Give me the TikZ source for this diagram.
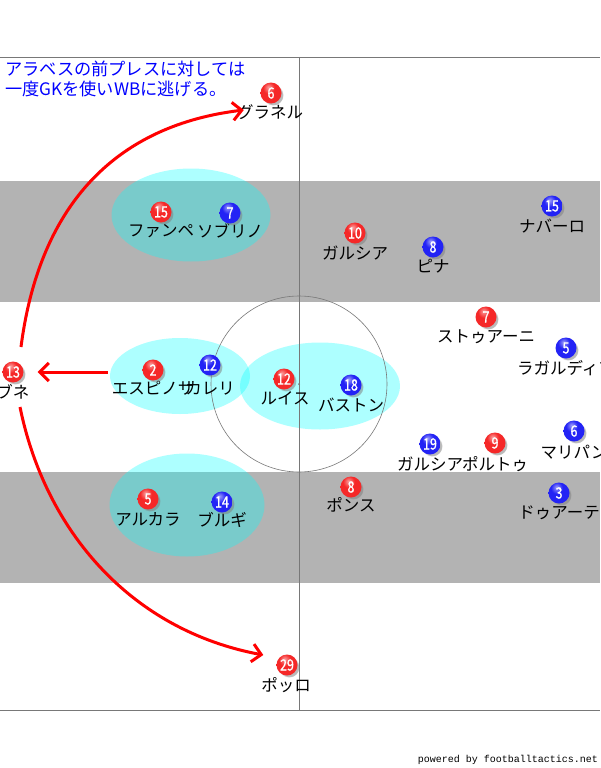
\documentclass[tikz,border=0pt]{standalone}
\usepackage{fontspec}
\newfontfamily\jp{Noto Sans CJK JP}
\newfontfamily\numf[FakeStretch=0.8,FakeBold=1.2]{Noto Sans CJK JP}
\newfontfamily\monof{Liberation Mono}
\usetikzlibrary{shapes.geometric,shadows,arrows.meta,calc}
\definecolor{band}{RGB}{179,179,179}
\definecolor{pred}{RGB}{245,40,40}
\definecolor{pblue}{RGB}{35,35,245}
\definecolor{zc}{RGB}{0,255,255}
\definecolor{fline}{RGB}{120,120,120}
\pgfdeclareradialshading{redball}{\pgfpoint{-6bp}{14bp}}{%
  color(0bp)=(pred!45!white); color(14bp)=(pred); color(38bp)=(pred);
  color(50bp)=(pred!75!black); color(100bp)=(pred!75!black)}
\pgfdeclareradialshading{blueball}{\pgfpoint{-6bp}{14bp}}{%
  color(0bp)=(pblue!45!white); color(14bp)=(pblue); color(38bp)=(pblue);
  color(50bp)=(pblue!75!black); color(100bp)=(pblue!75!black)}
\begin{document}
\begin{tikzpicture}[x=1pt,y=-1pt,
  player/.style={circle, minimum size=21pt, inner sep=0pt, text=white,
    font=\numf\fontsize{15.5}{16}\selectfont,
    circular drop shadow={shadow xshift=2.2pt, shadow yshift=-2.2pt, shadow scale=1.0, opacity=0.55}},
  redp/.style={player, shading=redball},
  bluep/.style={player, shading=blueball},
  lbl/.style={inner sep=0pt, font=\jp\fontsize{16.5}{18}\selectfont, text=black},
  zone/.style={ellipse, fill=zc, fill opacity=0.32, draw=none, inner sep=0pt},
  redarr/.style={draw=red, line width=3pt, -{Straight Barb[length=9pt,width=18pt]}},
  fieldline/.style={draw=fline, line width=0.9pt}]
\useasboundingbox (0,0) rectangle (600,768);
\fill[white] (0,0) rectangle (600,768);
% bands
\fill[band] (0,181) rectangle (600,302);
\fill[band] (0,472) rectangle (600,583);
% zones
\node[zone, minimum width=159pt, minimum height=93pt] (e1) at (191,215) {};
\node[zone, minimum width=140pt, minimum height=76pt] (e2) at (180,376) {};
\node[zone, minimum width=160pt, minimum height=87pt] (e3) at (320,386) {};
\node[zone, minimum width=155pt, minimum height=103pt] (e4) at (187,505) {};
% field lines
\draw[fieldline] (0,57) -- (600,57);
\draw[fieldline] (0,710) -- (600,710);
\draw[fieldline] (299,57) -- (299,710);
\draw[draw=fline, line width=0.6pt] (299,384) circle[radius=88];
\fill[fline] (299,384) circle[radius=1];
% title and credit
\node[anchor=north west, inner sep=0pt, align=left, text=blue,
  font=\jp\fontsize{17.2}{20}\selectfont] (title) at (5,61)
  {アラベスの前プレスに対しては\\一度GKを使いWBに逃げる。};
\node[anchor=east, inner sep=0pt, font=\monof\fontsize{10}{12}\selectfont] (credit) at (598,760)
  {powered by footballtactics.net};
% labels
\node[lbl] (l6r) at (270,112) {グラネル};
\node[lbl] (l15r) at (161,231) {ファンペ};
\node[lbl] (l7b) at (230,231) {ソブリノ};
\node[lbl] (l10r) at (355,253) {ガルシア};
\node[lbl] (l8b) at (433,266) {ピナ};
\node[lbl] (l15b) at (552,226) {ナバーロ};
\node[lbl] (l13r) at (13,392) {ブネ};
\node[lbl] (l2r) at (153,388) {エスピノサ};
\node[lbl] (l12b) at (210,388) {カレリ};
\node[lbl] (l12r) at (285,398) {ルイス};
\node[lbl] (l18b) at (351,405) {バストン};
\node[lbl] (l7r) at (486,337) {ストゥアーニ};
\node[lbl] (l5b) at (566,368) {ラガルディア};
\node[lbl] (l19b) at (430,464) {ガルシア};
\node[lbl] (l9r) at (495,464) {ポルトゥ};
\node[lbl] (l6b) at (574,452) {マリパン};
\node[lbl] (l5r) at (148,519) {アルカラ};
\node[lbl] (l14b) at (222,520) {ブルギ};
\node[lbl] (l8r) at (351,505) {ポンス};
\node[lbl] (l3b) at (559,513) {ドゥアーテ};
\node[lbl] (l29r) at (286,685) {ポッロ};
% players
\node[redp] (r6) at (271,93) {6};
\node[redp] (r15) at (161,212) {15};
\node[bluep] (b7) at (230,213) {7};
\node[redp] (r10) at (355,233) {10};
\node[bluep] (b8) at (433,247) {8};
\node[bluep] (b15) at (552,206) {15};
\node[redp] (r13) at (13,372) {13};
\node[redp] (r2) at (153,370) {2};
\node[bluep] (b12) at (210,365) {12};
\node[redp] (r12) at (284,379) {12};
\node[bluep] (b18) at (351,385) {18};
\node[redp] (r7) at (486,317) {7};
\node[bluep] (b5) at (566,348) {5};
\node[bluep] (b19) at (430,444) {19};
\node[redp] (r9) at (495,443) {9};
\node[bluep] (b6) at (574,431) {6};
\node[redp] (r5) at (148,499) {5};
\node[bluep] (b14) at (222,502) {14};
\node[redp] (r8) at (351,487) {8};
\node[bluep] (b3) at (559,493) {3};
\node[redp] (r29) at (287,665) {29};
% arrows
\draw[redarr] ($(r13)+(8,-25)$) .. controls (40,200) and (120,125) .. ($(l6r.west)+(7,-2)$);
\draw[redarr] ($(e2.west)+(-2,-4)$) -- ($(r13.east)+(14,0)$);
\draw[redarr] ($(r13)+(7,35)$) .. controls (45,530) and (130,630) .. ($(r29.west)+(-13,-10)$);
\end{tikzpicture}
\end{document}
